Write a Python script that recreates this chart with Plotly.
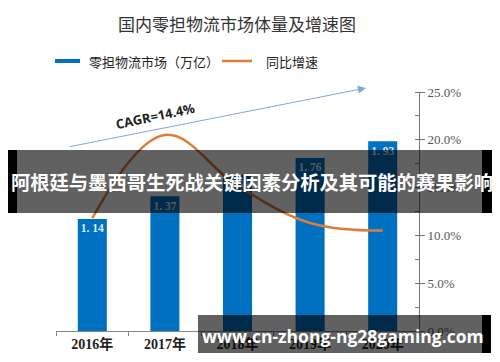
import plotly.graph_objects as go

years = ["2016年", "2017年", "2018年", "2019年", "2020年"]
market = [1.14, 1.37, 1.59, 1.76, 1.93]
growth = [0.118, 0.205, 0.152, 0.113, 0.105]
bar_labels = ["1. 14", "1. 37", "1. 59", "1. 76", "1. 93"]
right_ticks = [0, 0.05, 0.10, 0.15, 0.20, 0.25]
right_tick_text = ["0.0%", "5.0%", "10.0%", "15.0%", "20.0%", "25.0%"]

# page has an 8px body margin: figure is shifted, so size/margins compensate
OFF = 8
W, H = 500 - OFF, 362 - OFF
PL, PR, PT, PB = 56, 419, 92, 331          # plot area in page pixels
L, R, T, B = PL - OFF, W - (PR - OFF), PT - OFF, H - (PB - OFF)

def px(x):
    return (x - PL) / (PR - PL)

def py(y):
    return (PB - y) / (PB - PT)

fig = go.Figure()
fig.add_trace(go.Bar(
    x=years, y=market, width=0.4, marker=dict(color="#0070C0", line=dict(width=0)),
    text=bar_labels, textposition="inside", insidetextanchor="end",
    textfont=dict(family="Liberation Serif", size=12, color="#dcecfa", weight="bold"),
    textangle=0, showlegend=False, yaxis="y", cliponaxis=False,
))
fig.add_trace(go.Scatter(
    x=years, y=growth, mode="lines", line=dict(color="#DD7D3C", width=2.5, shape="spline", smoothing=1.1),
    yaxis="y2", showlegend=False,
))

shapes = []
annotations = []

# Legend (manual)
shapes.append(dict(type="line", xref="paper", yref="paper", x0=px(55), x1=px(80), y0=py(61), y1=py(61),
                   line=dict(color="#0070C0", width=4)))
annotations.append(dict(xref="paper", yref="paper", x=px(87), y=py(61), xanchor="left", yanchor="middle",
                        text="零担物流市场（万亿）", showarrow=False,
                        font=dict(family="Noto Sans CJK SC", size=13, color="#222")))
shapes.append(dict(type="line", xref="paper", yref="paper", x0=px(222), x1=px(252), y0=py(61), y1=py(61),
                   line=dict(color="#DD7D3C", width=2.5)))
annotations.append(dict(xref="paper", yref="paper", x=px(264), y=py(61), xanchor="left", yanchor="middle",
                        text="同比增速", showarrow=False,
                        font=dict(family="Noto Sans CJK SC", size=13, color="#222")))

# Title
annotations.append(dict(xref="paper", yref="paper", x=px(237), y=py(24), xanchor="center", yanchor="middle",
                        text="国内零担物流市场体量及增速图", showarrow=False,
                        font=dict(family="Noto Sans CJK SC", size=17, color="#333")))

# CAGR arrow
annotations.append(dict(xref="paper", yref="paper",
                        x=px(366), y=py(88), ax=68 - 366, ay=147 - 88, text="", showarrow=True,
                        arrowhead=2, arrowsize=1.6, arrowwidth=1, arrowcolor="#7FA8D6"))
annotations.append(dict(xref="paper", yref="paper", x=px(155), y=py(116), xanchor="center", yanchor="middle",
                        text="<b>CAGR=14.4%</b>", textangle=-12, showarrow=False,
                        font=dict(family="Open Sans", size=13, color="#222")))

# Overlay banner
shapes.append(dict(type="rect", xref="paper", yref="paper", x0=px(0), x1=px(17), y0=py(150), y1=py(213),
                   fillcolor="black", line=dict(width=0), layer="above"))
shapes.append(dict(type="rect", xref="paper", yref="paper", x0=px(17), x1=px(482), y0=py(150), y1=py(213),
                   fillcolor="rgba(0,0,0,0.62)", line=dict(width=0), layer="above"))
shapes.append(dict(type="rect", xref="paper", yref="paper", x0=px(482), x1=px(500), y0=py(150), y1=py(213),
                   fillcolor="black", line=dict(width=0), layer="above"))
annotations.append(dict(xref="paper", yref="paper", x=px(252), y=py(182), xanchor="center", yanchor="middle",
                        text="<b>阿根廷与墨西哥生死战关键因素分析及其可能的赛果影响</b>", showarrow=False,
                        font=dict(family="Noto Sans CJK SC", size=19.3, color="white")))

# Watermark
shapes.append(dict(type="rect", xref="paper", yref="paper", x0=px(198), x1=px(482), y0=py(315), y1=py(353),
                   fillcolor="rgba(0,0,0,0.62)", line=dict(width=0), layer="above"))
shapes.append(dict(type="rect", xref="paper", yref="paper", x0=px(482), x1=px(491), y0=py(315), y1=py(353),
                   fillcolor="black", line=dict(width=0), layer="above"))
annotations.append(dict(xref="paper", yref="paper", x=px(343), y=py(336), xanchor="center", yanchor="middle",
                        text="<b>www.cn-zhong-ng28gaming.com</b>", showarrow=False,
                        font=dict(family="Open Sans", size=17.5, color="white")))

fig.update_layout(
    width=W, height=H, margin=dict(l=L, r=R, t=T, b=B, pad=0, autoexpand=False),
    paper_bgcolor="white", plot_bgcolor="white",
    showlegend=False, bargap=0.6,
    shapes=shapes, annotations=annotations,
    xaxis=dict(showgrid=False, showline=True, linecolor="#888", linewidth=1, automargin=False,
               ticks="outside", tickson="boundaries", ticklen=4, tickcolor="#888",
               tickfont=dict(family="Liberation Serif, Noto Sans CJK SC", size=14, color="#222", weight="bold"),
               range=[-0.5, 4.5]),
    yaxis=dict(range=[0, 2.43], visible=False, showgrid=False, automargin=False),
    yaxis2=dict(range=[0, 0.25], overlaying="y", side="right", showgrid=False, zeroline=False,
                showline=True, linecolor="#777", linewidth=1, automargin=False,
                tickvals=right_ticks, ticktext=right_tick_text,
                ticks="outside", ticklen=5, tickcolor="#777",
                minor=dict(dtick=0.025, ticks="inside", ticklen=4, tickcolor="#777"),
                tickfont=dict(family="Liberation Serif", size=13, color="#555")),
)

fig.write_html("out.html")
